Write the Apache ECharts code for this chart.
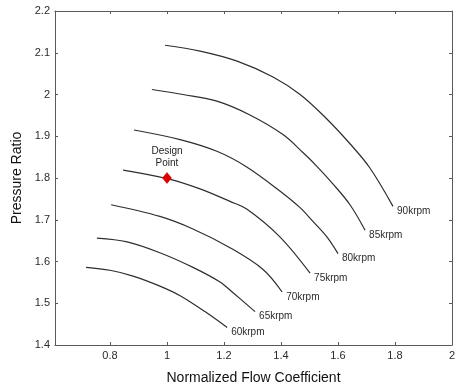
<!DOCTYPE html>
<html>
<head>
<meta charset="utf-8">
<script src="https://cdn.jsdelivr.net/npm/echarts@6/dist/echarts.min.js"></script>
<style>
  html, body { margin: 0; padding: 0; background: #fff; }
  #chart { width: 461px; height: 390px; }
</style>
</head>
<body>
<div id="chart"></div>
<script>
// Compressor map: speed lines of pressure ratio vs normalized flow coefficient
const speedNames = ['60krpm', '65krpm', '70krpm', '75krpm', '80krpm', '85krpm', '90krpm'];

const line60 = [[0.716,1.586],[0.800,1.579],[0.881,1.565],[0.975,1.541],[1.046,1.518],[1.133,1.480],[1.211,1.442]];
const line65 = [[0.754,1.656],[0.860,1.647],[0.975,1.621],[1.091,1.586],[1.186,1.551],[1.232,1.525],[1.309,1.480]];
const line70 = [[0.804,1.736],[0.975,1.708],[1.091,1.678],[1.221,1.633],[1.337,1.581],[1.404,1.527]];
const line75 = [[0.846,1.819],[1.004,1.798],[1.116,1.774],[1.221,1.744],[1.281,1.725],[1.396,1.659],[1.502,1.572]];
const line80 = [[0.884,1.915],[1.046,1.892],[1.175,1.864],[1.281,1.826],[1.396,1.769],[1.467,1.729],[1.512,1.696],[1.561,1.659],[1.600,1.619]];
const line85 = [[0.947,2.012],[1.056,2.000],[1.175,1.984],[1.291,1.951],[1.407,1.904],[1.477,1.861],[1.526,1.828],[1.582,1.786],[1.642,1.736],[1.695,1.675]];
const line90 = [[0.993,2.118],[1.116,2.104],[1.246,2.080],[1.372,2.042],[1.467,2.000],[1.554,1.946],[1.642,1.882],[1.712,1.824],[1.793,1.732]];

const speedLines = [line60, line65, line70, line75, line80, line85, line90];

const designPoint = [[1.0, 1.8]];
const designLabel = 'Design\nPoint';

const xTicks = [0.8, 1.0, 1.2, 1.4, 1.6, 1.8, 2.0];
const xMin = 0.607, xMax = 2.0;
const yMin = 1.4, yMax = 2.2, yStep = 0.1;

const FONT = 'Liberation Sans, Arial, Helvetica, sans-serif';
const AXIS_COLOR = '#5a5a5a';
const TEXT_COLOR = '#2a2a2a';
const CURVE_COLOR = '#2e2e2e';

function fmt(v) {
  return String(Math.round(v * 10) / 10);
}

const chart = echarts.init(document.getElementById('chart'), null, { renderer: 'canvas' });

const baseX = {
  type: 'value', min: xMin, max: xMax,
  axisLine: { show: true, onZero: false, lineStyle: { color: AXIS_COLOR, width: 1 } },
  axisTick: { show: true, inside: true, length: 3, customValues: xTicks, lineStyle: { color: AXIS_COLOR } },
  splitLine: { show: false }
};
const baseY = {
  type: 'value', min: yMin, max: yMax, interval: yStep,
  axisLine: { show: true, onZero: false, lineStyle: { color: AXIS_COLOR, width: 1 } },
  axisTick: { show: true, inside: true, length: 3, lineStyle: { color: AXIS_COLOR } },
  splitLine: { show: false }
};

const series = speedLines.map((pts, i) => ({
  type: 'line',
  name: speedNames[i],
  data: pts,
  smooth: 0.35,
  symbol: 'none',
  lineStyle: { color: CURVE_COLOR, width: 1.2 },
  silent: true,
  endLabel: {
    show: true,
    formatter: speedNames[i],
    distance: 4,
    offset: [0, 5],
    color: TEXT_COLOR,
    fontSize: 10,
    fontFamily: FONT
  }
}));

series.push({
  type: 'scatter',
  data: designPoint,
  symbol: 'diamond',
  symbolSize: [9, 11],
  itemStyle: { color: '#e00000', borderColor: '#b00000', borderWidth: 0.5, opacity: 1 },
  label: {
    show: true,
    position: 'top',
    distance: 3,
    formatter: designLabel,
    color: '#222',
    fontSize: 10,
    lineHeight: 12,
    fontFamily: FONT
  },
  z: 5
});

chart.setOption({
  animation: false,
  backgroundColor: '#fff',
  grid: { left: 55, right: 9, top: 11, bottom: 39, containLabel: false },
  xAxis: [
    Object.assign({}, baseX, {
      position: 'bottom',
      name: 'Normalized Flow Coefficient',
      nameLocation: 'middle',
      nameGap: 26,
      nameTextStyle: { color: '#111', fontSize: 14, fontFamily: FONT },
      axisLabel: {
        show: true, customValues: xTicks, margin: 5,
        color: TEXT_COLOR, fontSize: 11, fontFamily: FONT,
        formatter: fmt
      }
    }),
    Object.assign({}, baseX, { position: 'top', axisLabel: { show: false } })
  ],
  yAxis: [
    Object.assign({}, baseY, {
      position: 'left',
      name: 'Pressure Ratio',
      nameLocation: 'middle',
      nameGap: 30,
      nameRotate: 90,
      nameTextStyle: { color: '#111', fontSize: 14, fontFamily: FONT },
      axisLabel: {
        show: true, margin: 5,
        color: TEXT_COLOR, fontSize: 11, fontFamily: FONT,
        formatter: fmt
      }
    }),
    Object.assign({}, baseY, { position: 'right', axisLabel: { show: false } })
  ],
  series: series
});
</script>
</body>
</html>
